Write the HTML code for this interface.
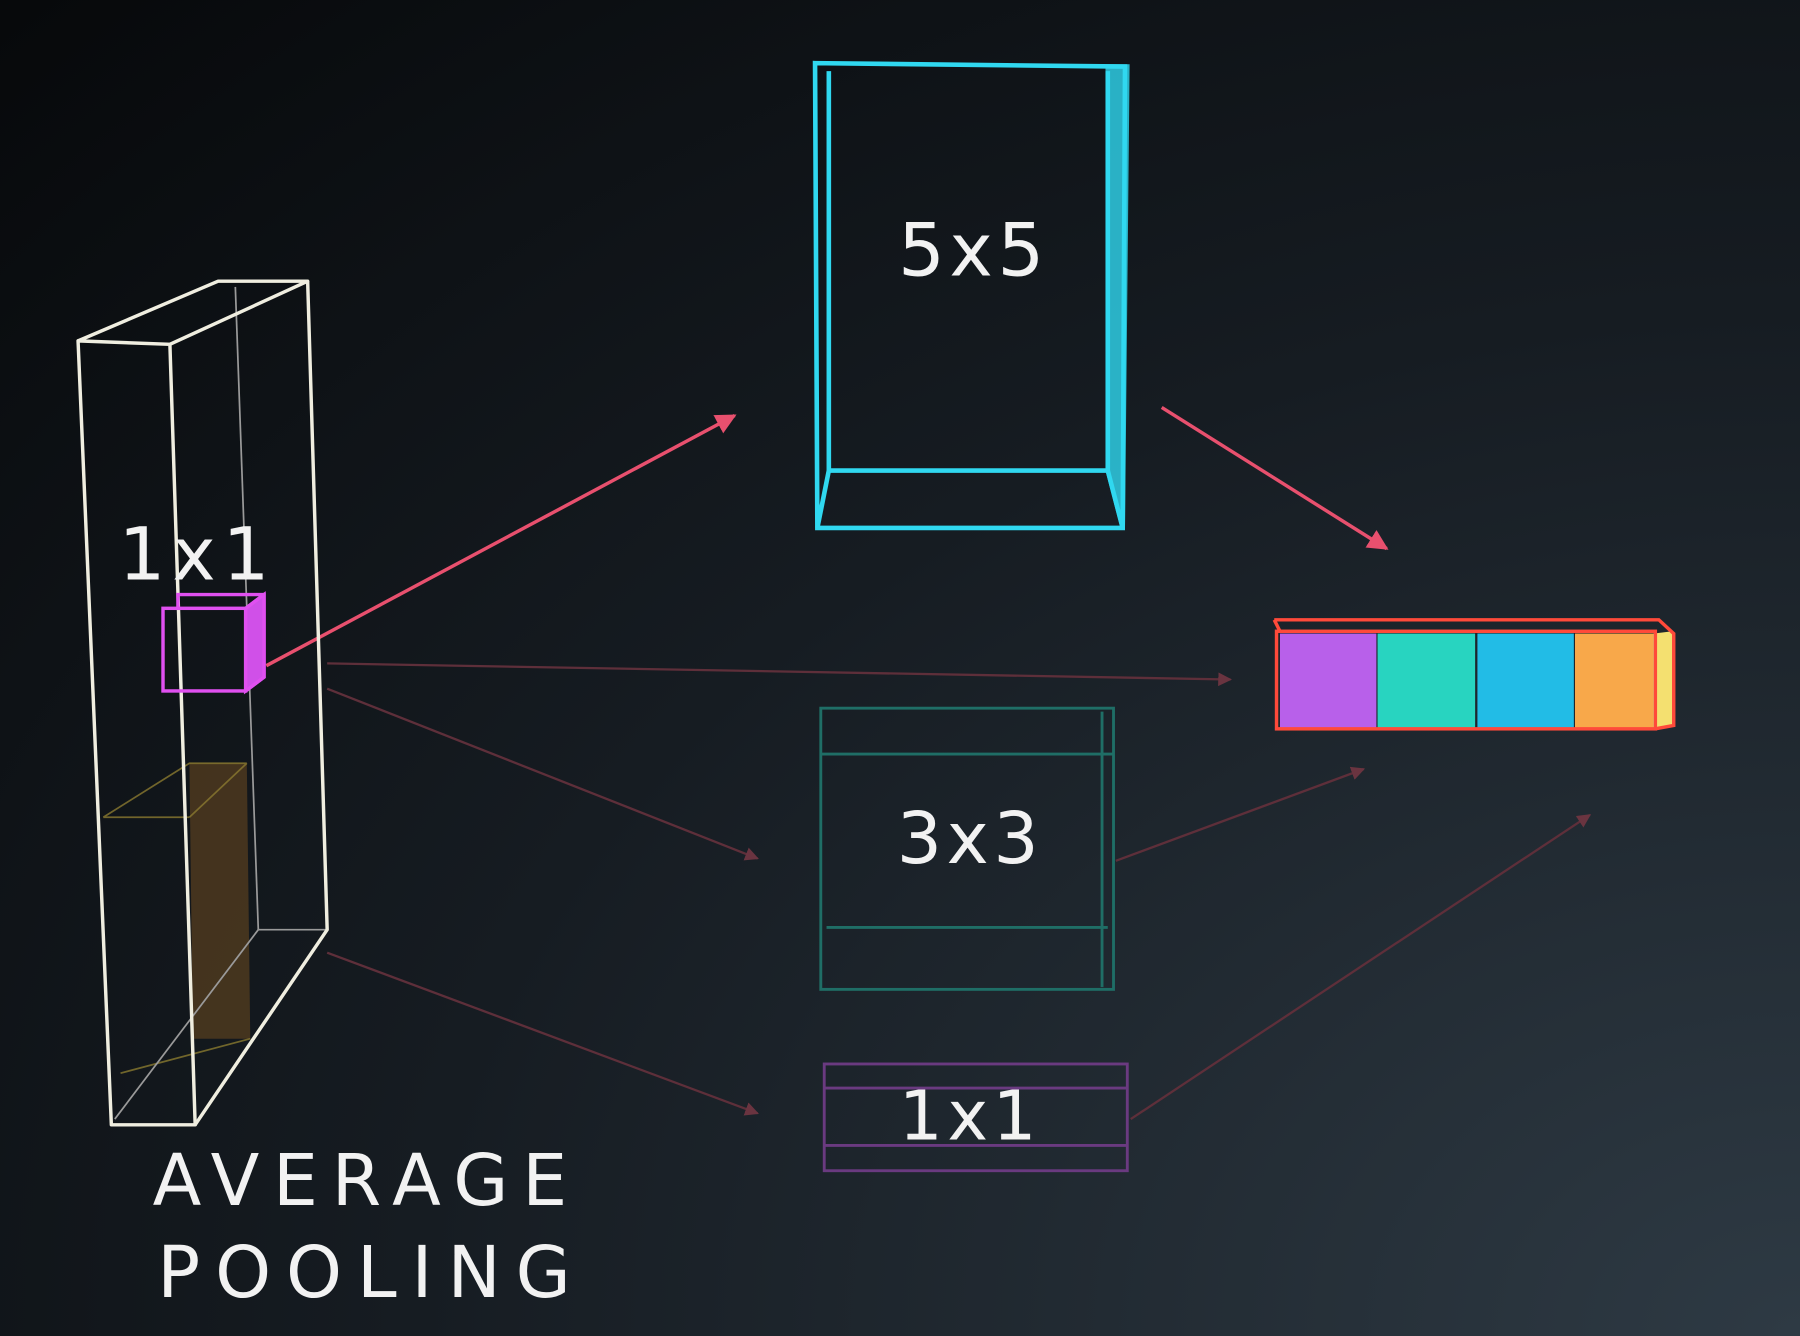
<!DOCTYPE html>
<html><head><meta charset="utf-8"><style>
html,body{margin:0;padding:0;background:#0b0d10;}
svg{display:block}
text{font-family:"DejaVu Sans","Liberation Sans",sans-serif;fill:#f2f2f2}
</style></head><body>
<svg width="1800" height="1336" viewBox="0 0 1568 1164" preserveAspectRatio="none" xmlns="http://www.w3.org/2000/svg">
<defs>
<radialGradient id="bg" cx="1.0" cy="1.0" r="1.4">
<stop offset="0" stop-color="#2e3a44"/><stop offset="0.55" stop-color="#161c22"/><stop offset="1" stop-color="#07090b"/>
</radialGradient>
<marker id="ah" viewBox="0 0 10 10" refX="9" refY="5" markerWidth="6" markerHeight="6" orient="auto"><path d="M0,0L10,5L0,10z" fill="#e8506e"/></marker>
<marker id="ahf" viewBox="0 0 10 10" refX="9" refY="5" markerWidth="6" markerHeight="6" orient="auto"><path d="M0,0L10,5L0,10z" fill="#6a3440"/></marker>
</defs>
<rect width="1568" height="1164" fill="url(#bg)"/>

<g stroke="#5e2f3a" stroke-width="2" fill="none">
<line x1="285" y1="578" x2="1072" y2="592" marker-end="url(#ahf)"/>
<line x1="285" y1="600" x2="660" y2="748" marker-end="url(#ahf)"/>
<line x1="285" y1="830" x2="660" y2="970" marker-end="url(#ahf)"/>
<line x1="972" y1="750" x2="1188" y2="670" marker-end="url(#ahf)"/>
<line x1="985" y1="975" x2="1385" y2="710" marker-end="url(#ahf)"/>
</g>
<g stroke="#e8506e" stroke-width="3" fill="none">
<line x1="232" y1="580" x2="640" y2="362" marker-end="url(#ah)"/>
<line x1="1012" y1="355" x2="1208" y2="478" marker-end="url(#ah)"/>
</g>

<g fill="none">
<polygon points="165,665 215,665 218,905 168,905" fill="#5a4020" opacity="0.7"/>
<g stroke="#8a7a30" stroke-width="1.5" opacity="0.8">
<polyline points="90,712 165,665 215,665"/><line x1="90" y1="712" x2="165" y2="712"/><line x1="165" y1="712" x2="215" y2="665"/>
<line x1="105" y1="935" x2="218" y2="905"/>
</g>
<g stroke="#9a9a9a" stroke-width="1.5"><line x1="205" y1="250" x2="225" y2="810"/><line x1="225" y1="810" x2="285" y2="810"/><line x1="225" y1="810" x2="100" y2="975"/></g>
<g stroke="#f0eee0" stroke-width="3" stroke-linejoin="round">
<polygon points="68,297 148,300 170,980 97,980"/>
<polyline points="68,297 190,245 268,245 148,300"/>
<polyline points="268,245 285,810 170,980"/>
</g>
</g>
<g stroke="#e050f0" stroke-width="3" fill="none">
<rect x="142" y="530" width="72" height="72"/><polyline points="155,530 155,518 230,518 230,590 214,602"/><line x1="214" y1="530" x2="230" y2="518"/>
<polygon points="214,530 230,518 230,590 214,602" fill="#d050e8"/>
</g>
<text x="172" y="505" font-size="64" text-anchor="middle" letter-spacing="6">1x1</text>

<g stroke="#30d8f0" stroke-width="4" fill="none">
<polygon points="710,55 980,58 978,460 712,460"/>
<polyline points="722,62 722,410 965,410 965,62"/>
<line x1="712" y1="460" x2="722" y2="410"/><line x1="978" y1="460" x2="965" y2="410"/>
<polygon points="965,58 982,58 978,460 965,410" fill="#30d8f0" opacity="0.8"/>
</g>
<text x="848" y="240" font-size="64" text-anchor="middle" letter-spacing="4">5x5</text>

<g stroke="#1f6e66" stroke-width="2.5" fill="none">
<rect x="715" y="617" width="255" height="245"/><line x1="715" y1="657" x2="970" y2="657"/><line x1="720" y1="808" x2="965" y2="808"/><line x1="960" y1="620" x2="960" y2="860"/>
</g>
<text x="845" y="752" font-size="62" text-anchor="middle" letter-spacing="4">3x3</text>

<g stroke="#6a3a80" stroke-width="2.5" fill="none">
<rect x="718" y="927" width="264" height="93"/><line x1="718" y1="948" x2="982" y2="948"/><line x1="718" y1="998" x2="982" y2="998"/>
</g>
<text x="845" y="993" font-size="60" text-anchor="middle" letter-spacing="4">1x1</text>

<g>
<rect x="1115" y="552" width="84" height="82" fill="#b860ea"/>
<rect x="1200" y="552" width="85" height="82" fill="#28d4c0"/>
<rect x="1287" y="552" width="84" height="82" fill="#22bce6"/>
<rect x="1372" y="552" width="68" height="82" fill="#f8a84a"/>
<polygon points="1440,552 1457,550 1457,632 1440,634" fill="#f4e070"/>
<g stroke="#ff4a3a" stroke-width="3" fill="none"><rect x="1112" y="550" width="330" height="85"/><polyline points="1110,540 1445,540 1458,552 1458,632 1442,635"/><line x1="1110" y1="540" x2="1115" y2="550"/></g>
</g>

<text x="133" y="1050" font-size="62" letter-spacing="12">AVERAGE</text>
<text x="137" y="1130" font-size="62" letter-spacing="13">POOLING</text>
</svg>
</body></html>
